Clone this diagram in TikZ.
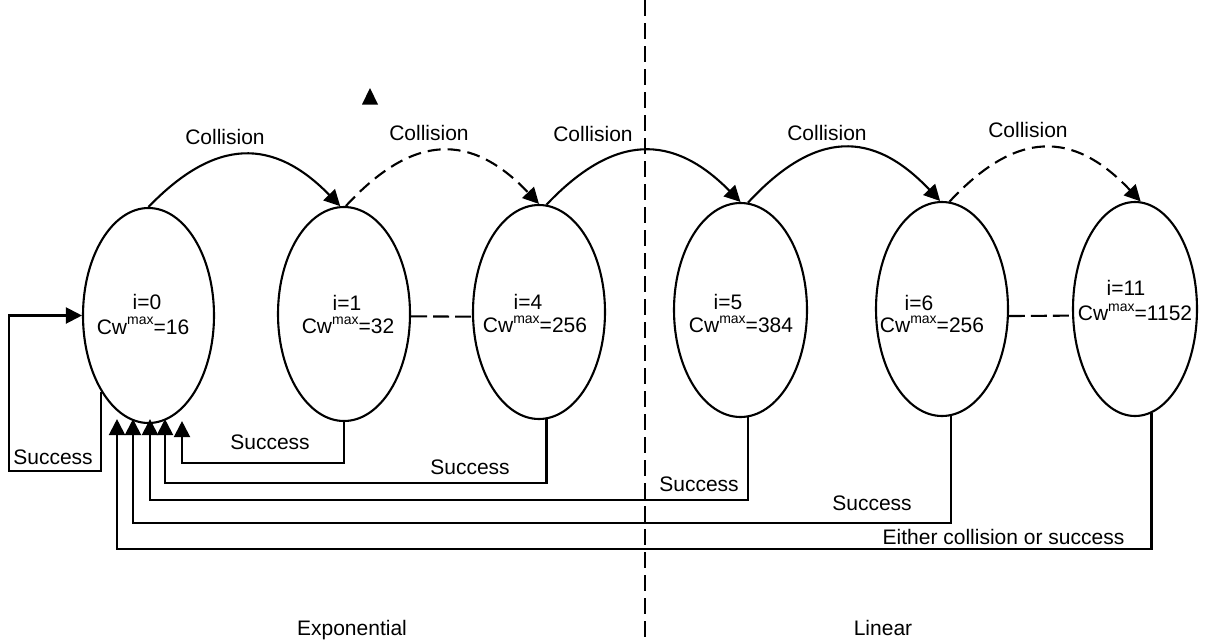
\documentclass[tikz,border=0pt]{standalone}
\usepackage{fontspec}
\setmainfont{Liberation Sans}
\usetikzlibrary{arrows.meta,shapes.geometric}
\newcommand\cwm{Cw\raisebox{9.5pt}{\fontsize{14pt}{14pt}\selectfont max}}
\begin{document}
\begin{tikzpicture}[x=1pt,y=-1pt,line width=2.1pt,
  st/.style={ellipse,draw,inner sep=0pt,minimum width=132pt,minimum height=214pt},
  txt/.style={font=\fontsize{21pt}{23pt}\selectfont,inner sep=0pt,anchor=base},
  arr/.style={-{Triangle[length=16pt,width=16pt]}},
  dsh/.style={dash pattern=on 16pt off 6pt},
  darc/.style={dash pattern=on 13pt off 7pt},
  sep/.style={dash pattern=on 16pt off 7pt}]
\fill[white] (0,0) rectangle (1205,643);
\useasboundingbox (0,0) rectangle (1205,643);

% states
\node[st,minimum width=131pt,minimum height=215pt] (e0) at (148.5,315.5) {};
\node[st] (e1) at (344,314) {};
\node[st] (e4) at (539,312) {};
\node[st,minimum width=133pt] (e5) at (740.5,310) {};
\node[st] (e6) at (942,309) {};
\node[st,minimum width=124pt] (e11) at (1135,309) {};

\node[txt] (e0i) at (147,309) {i=0};
\node[txt] (e0c) at (143,334) {\cwm=16};
\node[txt] (e1i) at (347,310) {i=1};
\node[txt] (e1c) at (348,333.5) {\cwm=32};
\node[txt] (e4i) at (528,309) {i=4};
\node[txt] (e4c) at (535,332.5) {\cwm=256};
\node[txt] (e5i) at (728,309) {i=5};
\node[txt] (e5c) at (741,332.5) {\cwm=384};
\node[txt] (e6i) at (919,310) {i=6};
\node[txt] (e6c) at (932,332.5) {\cwm=256};
\node[txt] (e11i) at (1126,295) {i=11};
\node[txt] (e11c) at (1135,320.5) {\cwm=1152};

% dashed separators between states
\draw[dsh] (e1.-2) -- (e4.184);
\draw[dsh] (e6.-6) -- (e11.186);

% collision arcs
\draw[arr] (e0.north) .. controls (215.5,137.5) and (273.3,137.5) .. (e1.92);
\draw[arr,darc] (e1.89) .. controls (413.5,132.7) and (471.4,132.7) .. (e4.north);
\draw[arr] (e4.86) .. controls (614.3,133.2) and (672.6,133.2) .. (e5.north);
\draw[arr] (e5.86) .. controls (815.3,129.8) and (872.8,129.8) .. (e6.91);
\draw[arr,darc] (e6.86) .. controls (1016.2,130) and (1073.3,130) .. (e11.87);

\node[txt] (c1) at (225,144.5) {Collision};
\node[txt] (c2) at (429,140.5) {Collision};
\node[txt] (c3) at (593,141.5) {Collision};
\node[txt] (c4) at (827,140.5) {Collision};
\node[txt] (c5) at (1028,137.5) {Collision};

% stray arrow head
\fill (370,88) -- (362,104.5) -- (378,104.5) -- cycle;

% self loop
\coordinate (lp) at (9,471);
\draw[arr] (e0.238) |- (lp) |- (e0.west);
\node[txt] (s0) at (53,464.5) {Success};

% returns
\draw[arr] (e1.south) -- ++(0,41) -| ([xshift=33.5pt,yshift=3pt]e0.south);
\draw[arr] (e4.-86) -- ++(0,64) -| ([xshift=16.5pt,yshift=5pt]e0.south);
\draw[arr] (e5.-86.5) -- ++(0,83) -| ([xshift=1.5pt,yshift=5pt]e0.south);
\draw[arr] (e6.-85.7) -- ++(0,107) -| ([xshift=-15.5pt,yshift=5pt]e0.south);
\draw[arr] (e11.-81) -- ++(0,136) -| ([xshift=-31.5pt,yshift=5pt]e0.south);

\node[txt] (s1) at (270,449.5) {Success};
\node[txt] (s4) at (470,474.5) {Success};
\node[txt] (s5) at (699,491.5) {Success};
\node[txt] (s6) at (872,510.5) {Success};
\node[txt] (s11) at (1003.5,544.5) {Either collision or success};

% divider
\draw[sep] (645,0) -- (645,643);
\node[txt] (ex) at (352,635) {Exponential};
\node[txt] (li) at (883,635.5) {Linear};
\end{tikzpicture}
\end{document}
